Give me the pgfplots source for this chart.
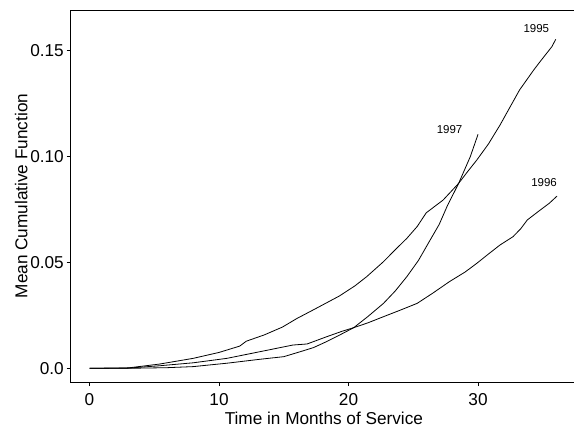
\documentclass[border=0pt]{standalone}
\usepackage{fontspec}
\setmainfont{Liberation Sans}
\usepackage{pgfplots}
\pgfplotsset{compat=1.18}
\begin{document}
\begin{tikzpicture}
\begin{axis}[
  scale only axis,
  width=506.3bp, height=372bp,
  xmin=-1.452, xmax=37.64,
  ymin=-0.00647, ymax=0.16933,
  axis line style={black, line width=0.8bp},
  tick pos=left,
  tick align=outside,
  major tick length=4bp,
  tick style={black, line width=0.8bp},
  xtick={0,10,20,30},
  xticklabels={0,10,20,30},
  ytick={0,0.05,0.10,0.15},
  yticklabels={0.0,0.05,0.10,0.15},
  ticklabel style={font=\fontsize{17.2bp}{20bp}\selectfont},
  yticklabel style={anchor=east, inner sep=0pt, xshift=-2.7bp},
  xticklabel style={anchor=north, inner sep=0pt, yshift=-7.5bp},
  xlabel={Time in Months of Service},
  ylabel={Mean Cumulative Function},
  label style={font=\fontsize{17.2bp}{20bp}\selectfont},
  xlabel style={at={(rel axis cs:0.5,-0.1150)}, anchor=base, inner sep=0pt},
  ylabel style={at={(rel axis cs:-0.0975,0.5)}, anchor=center, inner sep=0pt, rotate=0},
  cycle list={{black, line width=0.8bp},{black, line width=0.8bp},{black, line width=0.8bp}},
  clip=false,
]
% 1995
\addplot coordinates {(0,0) (3,0.0002) (5.4,0.002) (8,0.0047) (10,0.0075) (11.6,0.0105) (12.1,0.0128) (13.5,0.0158) (14.9,0.0195) (16,0.0235) (17.4,0.028) (19.3,0.0342) (20.5,0.039) (21.4,0.0433) (22.7,0.0504) (23.6,0.056) (24.5,0.0614) (25.3,0.067) (26.0,0.0735) (27.3,0.0795) (28.5,0.0874) (29.2,0.093) (29.9,0.0984) (30.8,0.106) (31.7,0.115) (32.2,0.1205) (32.7,0.126) (33.2,0.1315) (34.3,0.141) (34.8,0.145) (35.3,0.1489) (35.7,0.152) (36.0,0.1555)};
% 1996
\addplot coordinates {(0,0) (3,0.0001) (5.4,0.0012) (8,0.0026) (10.6,0.0047) (13.2,0.0079) (15.7,0.011) (16.8,0.0115) (18.3,0.0149) (19.5,0.0175) (20.4,0.0192) (21.5,0.0215) (22.7,0.0244) (24,0.0275) (25.3,0.0307) (26.5,0.0355) (27.8,0.041) (29,0.0455) (29.9,0.0496) (30.8,0.054) (31.7,0.0583) (32.7,0.0622) (33.3,0.066) (33.8,0.0701) (34.8,0.0748) (35.5,0.078) (36.1,0.0814)};
% 1997
\addplot coordinates {(0,0) (4,0.0001) (6,0.0003) (8,0.0008) (10.6,0.0024) (13.2,0.0043) (15,0.0055) (16.3,0.0079) (17.3,0.0098) (18.3,0.0126) (19.4,0.016) (20.4,0.0192) (21.5,0.0245) (22.7,0.0307) (23.6,0.0365) (24.5,0.0433) (25.4,0.051) (26.3,0.0606) (27,0.068) (27.6,0.0764) (28.5,0.0874) (29.4,0.1) (30,0.1106)};
\node[font=\fontsize{11.5bp}{13bp}\selectfont] at (axis cs:34.5,0.1608) {1995};
\node[font=\fontsize{11.5bp}{13bp}\selectfont] at (axis cs:27.8,0.1126) {1997};
\node[font=\fontsize{11.5bp}{13bp}\selectfont] at (axis cs:35.1,0.0880) {1996};
\end{axis}
\pgfresetboundingbox
\path (-70.7bp,-49bp) rectangle (503.3bp,382bp);
\end{tikzpicture}
\end{document}
